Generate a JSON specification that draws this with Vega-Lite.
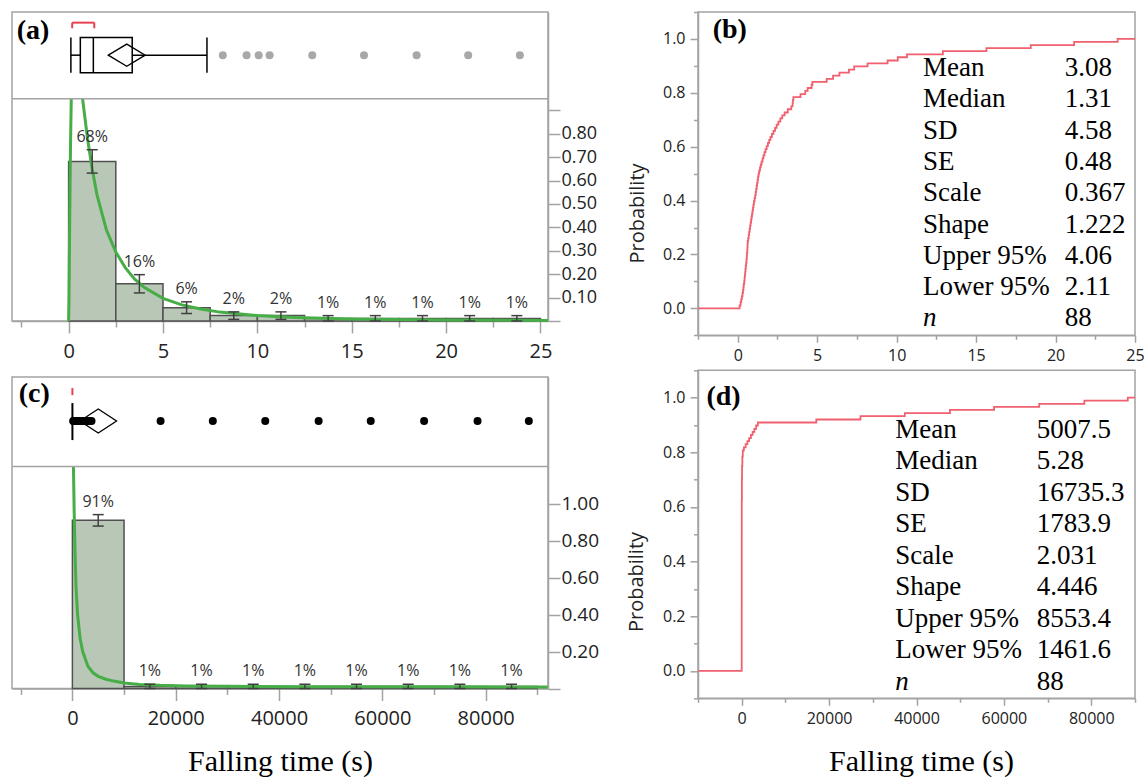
{
  "$schema": "https://vega.github.io/schema/vega-lite/v6.json",
  "background": "white",
  "padding": {"left": 10, "top": 10, "right": 0, "bottom": 0},
  "config": {
    "view": {"stroke": "#a3a3a3", "strokeWidth": 1.5},
    "axis": {"grid": false, "domainColor": "#a3a3a3", "domainWidth": 1.5, "tickColor": "#a3a3a3", "tickWidth": 1.5, "labelFont": "Open Sans", "labelColor": "#222222", "labelFlush": false, "labelOverlap": false, "titleFont": "Open Sans", "titleColor": "#222222", "titleFontWeight": "normal"}
  },
  "datasets": {
    "histA": [
      {"lo": 0, "hi": 2.5, "mid": 1.25, "pct": 0.682, "elo": 0.632, "ehi": 0.732},
      {"lo": 2.5, "hi": 5, "mid": 3.75, "pct": 0.159, "elo": 0.12, "ehi": 0.198},
      {"lo": 5, "hi": 7.5, "mid": 6.25, "pct": 0.057, "elo": 0.032, "ehi": 0.082},
      {"lo": 7.5, "hi": 10, "mid": 8.75, "pct": 0.023, "elo": 0.007, "ehi": 0.039},
      {"lo": 10, "hi": 12.5, "mid": 11.25, "pct": 0.023, "elo": 0.007, "ehi": 0.039},
      {"lo": 12.5, "hi": 15, "mid": 13.75, "pct": 0.011, "elo": 0, "ehi": 0.023},
      {"lo": 15, "hi": 17.5, "mid": 16.25, "pct": 0.011, "elo": 0, "ehi": 0.023},
      {"lo": 17.5, "hi": 20, "mid": 18.75, "pct": 0.011, "elo": 0, "ehi": 0.023},
      {"lo": 20, "hi": 22.5, "mid": 21.25, "pct": 0.011, "elo": 0, "ehi": 0.023},
      {"lo": 22.5, "hi": 25, "mid": 23.75, "pct": 0.011, "elo": 0, "ehi": 0.023}
    ],
    "histC": [
      {"lo": 0, "hi": 10000, "mid": 5000, "pct": 0.909, "elo": 0.878, "ehi": 0.94},
      {"lo": 10000, "hi": 20000, "mid": 15000, "pct": 0.011, "elo": 0, "ehi": 0.023},
      {"lo": 20000, "hi": 30000, "mid": 25000, "pct": 0.011, "elo": 0, "ehi": 0.023},
      {"lo": 30000, "hi": 40000, "mid": 35000, "pct": 0.011, "elo": 0, "ehi": 0.023},
      {"lo": 40000, "hi": 50000, "mid": 45000, "pct": 0.011, "elo": 0, "ehi": 0.023},
      {"lo": 50000, "hi": 60000, "mid": 55000, "pct": 0.011, "elo": 0, "ehi": 0.023},
      {"lo": 60000, "hi": 70000, "mid": 65000, "pct": 0.011, "elo": 0, "ehi": 0.023},
      {"lo": 70000, "hi": 80000, "mid": 75000, "pct": 0.011, "elo": 0, "ehi": 0.023},
      {"lo": 80000, "hi": 90000, "mid": 85000, "pct": 0.011, "elo": 0, "ehi": 0.023}
    ],
    "curveA": [
      {"seg": 1, "x": 0, "y": 0}, {"seg": 1, "x": 0.02, "y": 0.09}, {"seg": 1, "x": 0.05, "y": 0.37}, {"seg": 1, "x": 0.1, "y": 0.75}, {"seg": 1, "x": 0.14, "y": 0.95},
      {"seg": 2, "x": 0.74, "y": 0.95}, {"seg": 2, "x": 1.0, "y": 0.78}, {"seg": 2, "x": 1.25, "y": 0.65}, {"seg": 2, "x": 1.5, "y": 0.54}, {"seg": 2, "x": 2, "y": 0.39},
      {"seg": 2, "x": 2.5, "y": 0.295}, {"seg": 2, "x": 3, "y": 0.228}, {"seg": 2, "x": 3.5, "y": 0.179}, {"seg": 2, "x": 4, "y": 0.144}, {"seg": 2, "x": 5, "y": 0.097},
      {"seg": 2, "x": 6, "y": 0.069}, {"seg": 2, "x": 7, "y": 0.051}, {"seg": 2, "x": 8, "y": 0.038}, {"seg": 2, "x": 10, "y": 0.023}, {"seg": 2, "x": 12, "y": 0.015},
      {"seg": 2, "x": 15, "y": 0.009}, {"seg": 2, "x": 20, "y": 0.004}, {"seg": 2, "x": 25.4, "y": 0.002}
    ],
    "curveC": [
      {"x": 200, "y": 1.2}, {"x": 350, "y": 0.95}, {"x": 500, "y": 0.75}, {"x": 700, "y": 0.55}, {"x": 1000, "y": 0.4},
      {"x": 1500, "y": 0.27}, {"x": 2000, "y": 0.2}, {"x": 3000, "y": 0.12}, {"x": 4000, "y": 0.085}, {"x": 5000, "y": 0.066},
      {"x": 6500, "y": 0.05}, {"x": 8000, "y": 0.04}, {"x": 10000, "y": 0.03}, {"x": 13000, "y": 0.022}, {"x": 17000, "y": 0.017},
      {"x": 22000, "y": 0.014}, {"x": 30000, "y": 0.012}, {"x": 45000, "y": 0.01}, {"x": 60000, "y": 0.009}, {"x": 75000, "y": 0.009}, {"x": 92000, "y": 0.008}
    ],
    "boxA": [{"min": 0.12, "q1": 0.62, "med": 1.31, "q3": 3.37, "max": 7.33, "mean": 3.08, "lo95": 2.11, "hi95": 4.06, "shlo": 0.19, "shhi": 1.36}],
    "outA": [{"v": 8.17}, {"v": 9.43}, {"v": 10.07}, {"v": 10.65}, {"v": 12.91}, {"v": 15.65}, {"v": 18.44}, {"v": 21.17}, {"v": 23.91}],
    "boxC": [{"med": 5.28, "mean": 5007.5, "lo95": 1461.6, "hi95": 8553.4, "shlo": 2, "shhi": 10}],
    "outC": [{"v": 150}, {"v": 250}, {"v": 500}, {"v": 900}, {"v": 1300}, {"v": 1700}, {"v": 2100}, {"v": 2500}, {"v": 2900}, {"v": 3300}, {"v": 3700},
      {"v": 17070}, {"v": 27180}, {"v": 37330}, {"v": 47660}, {"v": 57750}, {"v": 68080}, {"v": 78420}, {"v": 88350}],
    "ecdfB": [
      {"x": -2.5, "F": 0},
      {"x": 0.12, "F": 0.011}, {"x": 0.18, "F": 0.023}, {"x": 0.22, "F": 0.034}, {"x": 0.26, "F": 0.045}, {"x": 0.3, "F": 0.057},
      {"x": 0.33, "F": 0.068}, {"x": 0.36, "F": 0.08}, {"x": 0.38, "F": 0.091}, {"x": 0.41, "F": 0.102}, {"x": 0.43, "F": 0.114},
      {"x": 0.45, "F": 0.125}, {"x": 0.47, "F": 0.136}, {"x": 0.49, "F": 0.148}, {"x": 0.51, "F": 0.159}, {"x": 0.53, "F": 0.17},
      {"x": 0.55, "F": 0.182}, {"x": 0.57, "F": 0.193}, {"x": 0.58, "F": 0.205}, {"x": 0.6, "F": 0.216}, {"x": 0.61, "F": 0.227},
      {"x": 0.62, "F": 0.239}, {"x": 0.63, "F": 0.25}, {"x": 0.66, "F": 0.261}, {"x": 0.69, "F": 0.273}, {"x": 0.72, "F": 0.284},
      {"x": 0.75, "F": 0.295}, {"x": 0.78, "F": 0.307}, {"x": 0.81, "F": 0.318}, {"x": 0.84, "F": 0.33}, {"x": 0.87, "F": 0.341},
      {"x": 0.9, "F": 0.352}, {"x": 0.93, "F": 0.364}, {"x": 0.96, "F": 0.375}, {"x": 0.99, "F": 0.386}, {"x": 1.02, "F": 0.398},
      {"x": 1.06, "F": 0.409}, {"x": 1.1, "F": 0.42}, {"x": 1.13, "F": 0.432}, {"x": 1.16, "F": 0.443}, {"x": 1.19, "F": 0.455},
      {"x": 1.22, "F": 0.466}, {"x": 1.25, "F": 0.477}, {"x": 1.28, "F": 0.489}, {"x": 1.31, "F": 0.5}, {"x": 1.35, "F": 0.511},
      {"x": 1.4, "F": 0.523}, {"x": 1.45, "F": 0.534}, {"x": 1.5, "F": 0.545}, {"x": 1.56, "F": 0.557}, {"x": 1.62, "F": 0.568},
      {"x": 1.68, "F": 0.58}, {"x": 1.75, "F": 0.591}, {"x": 1.82, "F": 0.602}, {"x": 1.9, "F": 0.614}, {"x": 1.98, "F": 0.625},
      {"x": 2.06, "F": 0.636}, {"x": 2.15, "F": 0.648}, {"x": 2.25, "F": 0.659}, {"x": 2.35, "F": 0.67}, {"x": 2.45, "F": 0.682},
      {"x": 2.56, "F": 0.693}, {"x": 2.68, "F": 0.705}, {"x": 2.8, "F": 0.716}, {"x": 2.95, "F": 0.727}, {"x": 3.15, "F": 0.739},
      {"x": 3.37, "F": 0.75}, {"x": 3.45, "F": 0.761}, {"x": 3.47, "F": 0.773}, {"x": 3.5, "F": 0.784}, {"x": 3.95, "F": 0.795},
      {"x": 4.25, "F": 0.807}, {"x": 4.4, "F": 0.818}, {"x": 4.65, "F": 0.83}, {"x": 4.7, "F": 0.841}, {"x": 5.6, "F": 0.852},
      {"x": 6.0, "F": 0.864}, {"x": 6.4, "F": 0.875}, {"x": 7.0, "F": 0.886}, {"x": 7.33, "F": 0.898}, {"x": 8.17, "F": 0.909},
      {"x": 9.43, "F": 0.92}, {"x": 10.07, "F": 0.932}, {"x": 10.65, "F": 0.943}, {"x": 12.91, "F": 0.955}, {"x": 15.65, "F": 0.966},
      {"x": 18.44, "F": 0.977}, {"x": 21.17, "F": 0.989}, {"x": 23.91, "F": 1}, {"x": 25, "F": 1}
    ],
    "ecdfD": [
      {"x": -10000, "F": 0}, {"x": 0.5, "F": 0.011}, {"x": 1.5, "F": 0.125}, {"x": 2.6, "F": 0.25}, {"x": 4, "F": 0.375}, {"x": 5.28, "F": 0.5},
      {"x": 12, "F": 0.625}, {"x": 40, "F": 0.705}, {"x": 80, "F": 0.75}, {"x": 150, "F": 0.784}, {"x": 250, "F": 0.807},
      {"x": 500, "F": 0.818}, {"x": 900, "F": 0.83}, {"x": 1300, "F": 0.841}, {"x": 1700, "F": 0.852}, {"x": 2100, "F": 0.864},
      {"x": 2500, "F": 0.875}, {"x": 2900, "F": 0.886}, {"x": 3300, "F": 0.898}, {"x": 3700, "F": 0.909}, {"x": 17070, "F": 0.92},
      {"x": 27180, "F": 0.932}, {"x": 37330, "F": 0.943}, {"x": 47660, "F": 0.955}, {"x": 57750, "F": 0.966}, {"x": 68080, "F": 0.977},
      {"x": 78420, "F": 0.989}, {"x": 88350, "F": 1}, {"x": 90000, "F": 1}
    ],
    "statsB": [
      {"i": 1, "stat": "Mean", "val": "3.08"}, {"i": 2, "stat": "Median", "val": "1.31"}, {"i": 3, "stat": "SD", "val": "4.58"}, {"i": 4, "stat": "SE", "val": "0.48"},
      {"i": 5, "stat": "Scale", "val": "0.367"}, {"i": 6, "stat": "Shape", "val": "1.222"}, {"i": 7, "stat": "Upper 95%", "val": "4.06"}, {"i": 8, "stat": "Lower 95%", "val": "2.11"}, {"i": 9, "stat": "n", "val": "88"}
    ],
    "statsD": [
      {"i": 1, "stat": "Mean", "val": "5007.5"}, {"i": 2, "stat": "Median", "val": "5.28"}, {"i": 3, "stat": "SD", "val": "16735.3"}, {"i": 4, "stat": "SE", "val": "1783.9"},
      {"i": 5, "stat": "Scale", "val": "2.031"}, {"i": 6, "stat": "Shape", "val": "4.446"}, {"i": 7, "stat": "Upper 95%", "val": "8553.4"}, {"i": 8, "stat": "Lower 95%", "val": "1461.6"}, {"i": 9, "stat": "n", "val": "88"}
    ]
  },
  "spacing": 25,
  "hconcat": [
    {
      "spacing": 56,
      "bounds": "flush",
      "vconcat": [
        {
          "width": 536,
          "height": 309,
          "resolve": {"axis": {"x": "independent", "y": "independent"}},
          "layer": [
            {
              "data": {"name": "histA"},
              "mark": {"type": "rect", "fill": "#b9c7b7", "stroke": "#505050", "strokeWidth": 1.5, "opacity": 1},
              "encoding": {
                "x": {"field": "lo", "type": "quantitative", "scale": {"domain": [-3.0, 25.4], "nice": false, "zero": false},
                  "axis": {"orient": "bottom", "values": [0, 5, 10, 15, 20, 25], "format": "d", "tickSize": 12, "labelPadding": 8, "labelFontSize": 20, "title": null}},
                "x2": {"field": "hi"},
                "y": {"field": "pct", "type": "quantitative", "scale": {"domain": [0, 1.3205], "nice": false, "zero": false},
                  "axis": {"orient": "right", "values": [0, 0.1, 0.2, 0.3, 0.4, 0.5, 0.6, 0.7, 0.8, 0.9], "labelExpr": "datum.value > 0.05 && datum.value < 0.85 ? format(datum.value, '.2f') : ''", "tickSize": 12, "labelPadding": 1, "labelFontSize": 18, "title": null}},
                "y2": {"datum": 0}
              }
            },
            {
              "data": {"name": "curveA"},
              "mark": {"type": "line", "color": "#47ad47", "strokeWidth": 3},
              "encoding": {
                "x": {"field": "x", "type": "quantitative", "axis": {"orient": "bottom", "values": [-2.5, 2.5, 7.5, 12.5, 17.5, 22.5], "labels": false, "domain": false, "tickSize": 6, "title": null}},
                "y": {"field": "y", "type": "quantitative", "axis": null},
                "detail": {"field": "seg"}
              }
            },
            {
              "data": {"name": "histA"},
              "mark": {"type": "rule", "color": "#404040", "strokeWidth": 1.5},
              "encoding": {"x": {"field": "mid", "type": "quantitative", "axis": null}, "y": {"field": "elo", "type": "quantitative", "axis": null}, "y2": {"field": "ehi"}}
            },
            {
              "data": {"name": "histA"},
              "mark": {"type": "tick", "orient": "horizontal", "size": 11, "thickness": 1.5, "color": "#404040", "opacity": 1},
              "encoding": {"x": {"field": "mid", "type": "quantitative", "axis": null}, "y": {"field": "ehi", "type": "quantitative", "axis": null}}
            },
            {
              "data": {"name": "histA"},
              "mark": {"type": "tick", "orient": "horizontal", "size": 11, "thickness": 1.5, "color": "#404040", "opacity": 1},
              "encoding": {"x": {"field": "mid", "type": "quantitative", "axis": null}, "y": {"field": "elo", "type": "quantitative", "axis": null}}
            },
            {
              "data": {"name": "histA"},
              "mark": {"type": "text", "font": "Open Sans", "fontSize": 16, "color": "#333333", "dy": -13, "baseline": "middle"},
              "encoding": {"x": {"field": "mid", "type": "quantitative", "axis": null}, "y": {"field": "ehi", "type": "quantitative", "axis": null}, "text": {"field": "pct", "type": "quantitative", "format": ".0%"}}
            },
            {
              "data": {"values": [{}]},
              "mark": {"type": "rule", "color": "#a3a3a3", "strokeWidth": 1.5},
              "encoding": {"y": {"datum": 0.95, "axis": null}}
            },
            {
              "data": {"name": "boxA"},
              "mark": {"type": "rect", "fill": "white", "fillOpacity": 0, "stroke": "black", "strokeWidth": 1.5},
              "encoding": {"x": {"field": "q1", "type": "quantitative", "axis": null}, "x2": {"field": "q3"}, "y": {"datum": 1.061, "axis": null}, "y2": {"datum": 1.211}}
            },
            {
              "data": {"name": "boxA"},
              "mark": {"type": "rule", "color": "black", "strokeWidth": 1.5},
              "encoding": {"x": {"field": "med", "type": "quantitative", "axis": null}, "y": {"datum": 1.061, "axis": null}, "y2": {"datum": 1.211}}
            },
            {
              "data": {"name": "boxA"},
              "mark": {"type": "rule", "color": "black", "strokeWidth": 1.5},
              "encoding": {"x": {"field": "min", "type": "quantitative", "axis": null}, "y": {"datum": 1.061, "axis": null}, "y2": {"datum": 1.211}}
            },
            {
              "data": {"name": "boxA"},
              "mark": {"type": "rule", "color": "black", "strokeWidth": 1.5},
              "encoding": {"x": {"field": "max", "type": "quantitative", "axis": null}, "y": {"datum": 1.061, "axis": null}, "y2": {"datum": 1.211}}
            },
            {
              "data": {"name": "boxA"},
              "mark": {"type": "rule", "color": "black", "strokeWidth": 1.5},
              "encoding": {"x": {"field": "min", "type": "quantitative", "axis": null}, "x2": {"field": "q1"}, "y": {"datum": 1.136, "axis": null}}
            },
            {
              "data": {"name": "boxA"},
              "mark": {"type": "rule", "color": "black", "strokeWidth": 1.5},
              "encoding": {"x": {"field": "q3", "type": "quantitative", "axis": null}, "x2": {"field": "max"}, "y": {"datum": 1.136, "axis": null}}
            },
            {
              "data": {"name": "boxA"},
              "mark": {"type": "point", "shape": "M-1,0L0,-0.6L1,0L0,0.6Z", "size": 1361, "filled": false, "stroke": "black", "strokeWidth": 1.3, "opacity": 1},
              "encoding": {"x": {"field": "mean", "type": "quantitative", "axis": null}, "y": {"datum": 1.136, "axis": null}}
            },
            {
              "data": {"name": "boxA"},
              "mark": {"type": "rule", "color": "#e8404e", "strokeWidth": 2},
              "encoding": {"x": {"field": "shlo", "type": "quantitative", "axis": null}, "x2": {"field": "shhi"}, "y": {"datum": 1.275, "axis": null}}
            },
            {
              "data": {"name": "boxA"},
              "mark": {"type": "rule", "color": "#e8404e", "strokeWidth": 2},
              "encoding": {"x": {"field": "shlo", "type": "quantitative", "axis": null}, "y": {"datum": 1.251, "axis": null}, "y2": {"datum": 1.275}}
            },
            {
              "data": {"name": "boxA"},
              "mark": {"type": "rule", "color": "#e8404e", "strokeWidth": 2},
              "encoding": {"x": {"field": "shhi", "type": "quantitative", "axis": null}, "y": {"datum": 1.251, "axis": null}, "y2": {"datum": 1.275}}
            },
            {
              "data": {"name": "outA"},
              "mark": {"type": "point", "filled": true, "color": "#a8a8a8", "size": 64, "opacity": 1},
              "encoding": {"x": {"field": "v", "type": "quantitative", "axis": null}, "y": {"datum": 1.136, "axis": null}}
            },
            {
              "data": {"values": [{"label": "(a)"}]},
              "mark": {"type": "text", "font": "Liberation Serif", "fontWeight": "bold", "fontSize": 28, "align": "left", "baseline": "middle", "color": "black"},
              "encoding": {"x": {"datum": -2.75, "axis": null}, "y": {"datum": 1.239, "axis": null}, "text": {"field": "label"}}
            }
          ]
        },
        {
          "width": 536,
          "height": 311.5,
          "resolve": {"axis": {"x": "independent", "y": "independent"}},
          "layer": [
            {
              "data": {"name": "histC"},
              "mark": {"type": "rect", "fill": "#b9c7b7", "stroke": "#505050", "strokeWidth": 1.5, "opacity": 1},
              "encoding": {
                "x": {"field": "lo", "type": "quantitative", "scale": {"domain": [-11690, 92060], "nice": false, "zero": false},
                  "axis": {"orient": "bottom", "values": [0, 20000, 40000, 60000, 80000], "format": "d", "tickSize": 12, "labelPadding": 8, "labelFontSize": 20,
                    "title": "Falling time (s)", "titleFont": "Liberation Serif", "titleFontSize": 30, "titleColor": "black", "titleX": 268, "titleY": 81.5, "titleBaseline": "alphabetic"}},
                "x2": {"field": "hi"},
                "y": {"field": "pct", "type": "quantitative", "scale": {"domain": [0, 1.684], "nice": false, "zero": false},
                  "axis": {"orient": "right", "values": [0, 0.2, 0.4, 0.6, 0.8, 1.0], "labelExpr": "datum.value > 0.1 ? format(datum.value, '.2f') : ''", "tickSize": 12, "labelPadding": 1, "labelFontSize": 19, "title": null}},
                "y2": {"datum": 0}
              }
            },
            {
              "data": {"name": "curveC"},
              "mark": {"type": "line", "color": "#47ad47", "strokeWidth": 3},
              "encoding": {
                "x": {"field": "x", "type": "quantitative", "axis": {"orient": "bottom", "values": [-10000, 10000, 30000, 50000, 70000, 90000], "labels": false, "domain": false, "tickSize": 6, "title": null}},
                "y": {"field": "y", "type": "quantitative", "axis": null}
              }
            },
            {
              "data": {"name": "histC"},
              "mark": {"type": "rule", "color": "#404040", "strokeWidth": 1.5},
              "encoding": {"x": {"field": "mid", "type": "quantitative", "axis": null}, "y": {"field": "elo", "type": "quantitative", "axis": null}, "y2": {"field": "ehi"}}
            },
            {
              "data": {"name": "histC"},
              "mark": {"type": "tick", "orient": "horizontal", "size": 11, "thickness": 1.5, "color": "#404040", "opacity": 1},
              "encoding": {"x": {"field": "mid", "type": "quantitative", "axis": null}, "y": {"field": "ehi", "type": "quantitative", "axis": null}}
            },
            {
              "data": {"name": "histC"},
              "mark": {"type": "tick", "orient": "horizontal", "size": 11, "thickness": 1.5, "color": "#404040", "opacity": 1},
              "encoding": {"x": {"field": "mid", "type": "quantitative", "axis": null}, "y": {"field": "elo", "type": "quantitative", "axis": null}}
            },
            {
              "data": {"name": "histC"},
              "mark": {"type": "text", "font": "Open Sans", "fontSize": 16, "color": "#333333", "dy": -13, "baseline": "middle"},
              "encoding": {"x": {"field": "mid", "type": "quantitative", "axis": null}, "y": {"field": "ehi", "type": "quantitative", "axis": null}, "text": {"field": "pct", "type": "quantitative", "format": ".0%"}}
            },
            {
              "data": {"values": [{}]},
              "mark": {"type": "rule", "color": "#a3a3a3", "strokeWidth": 1.5},
              "encoding": {"y": {"datum": 1.2, "axis": null}}
            },
            {
              "data": {"name": "outC"},
              "mark": {"type": "point", "filled": true, "color": "black", "size": 64, "opacity": 1},
              "encoding": {"x": {"field": "v", "type": "quantitative", "axis": null}, "y": {"datum": 1.446, "axis": null}}
            },
            {
              "data": {"name": "boxC"},
              "mark": {"type": "rule", "color": "black", "strokeWidth": 2},
              "encoding": {"x": {"field": "med", "type": "quantitative", "axis": null}, "y": {"datum": 1.343, "axis": null}, "y2": {"datum": 1.543}}
            },
            {
              "data": {"name": "boxC"},
              "mark": {"type": "point", "shape": "M-1,0L0,-0.655L1,0L0,0.655Z", "size": 1342, "filled": false, "stroke": "black", "strokeWidth": 1.3, "opacity": 1},
              "encoding": {"x": {"field": "mean", "type": "quantitative", "axis": null}, "y": {"datum": 1.446, "axis": null}}
            },
            {
              "data": {"name": "boxC"},
              "mark": {"type": "rule", "color": "#e8404e", "strokeWidth": 2},
              "encoding": {"x": {"field": "shlo", "type": "quantitative", "axis": null}, "x2": {"field": "shhi"}, "y": {"datum": 1.624, "axis": null}}
            },
            {
              "data": {"name": "boxC"},
              "mark": {"type": "rule", "color": "#e8404e", "strokeWidth": 2},
              "encoding": {"x": {"field": "shlo", "type": "quantitative", "axis": null}, "y": {"datum": 1.586, "axis": null}, "y2": {"datum": 1.624}}
            },
            {
              "data": {"values": [{"label": "(c)"}]},
              "mark": {"type": "text", "font": "Liberation Serif", "fontWeight": "bold", "fontSize": 28, "align": "left", "baseline": "middle", "color": "black"},
              "encoding": {"x": {"datum": -10393, "axis": null}, "y": {"datum": 1.592, "axis": null}, "text": {"field": "label"}}
            }
          ]
        }
      ]
    },
    {
      "spacing": 34.3,
      "bounds": "flush",
      "vconcat": [
        {
          "width": 437,
          "height": 323.3,
          "resolve": {"scale": {"y": "independent"}, "axis": {"x": "independent", "y": "independent"}},
          "layer": [
            {
              "resolve": {"axis": {"x": "independent", "y": "independent"}},
              "layer": [
                {
                  "data": {"name": "ecdfB"},
                  "mark": {"type": "line", "interpolate": "step-after", "color": "#f0606e", "strokeWidth": 1.8},
                  "encoding": {
                    "x": {"field": "x", "type": "quantitative", "scale": {"domain": [-2.5, 25], "nice": false, "zero": false},
                      "axis": {"orient": "bottom", "values": [0, 5, 10, 15, 20, 25], "format": "d", "tickSize": 7, "labelPadding": 5, "labelFontSize": 16, "title": null}},
                    "y": {"field": "F", "type": "quantitative", "scale": {"domain": [-0.1, 1.1], "nice": false, "zero": false},
                      "axis": {"orient": "left", "values": [0, 0.2, 0.4, 0.6, 0.8, 1.0], "format": ".1f", "tickSize": 8, "labelPadding": 5, "labelFontSize": 16,
                        "title": "Probability", "titleFontSize": 20, "titleX": -61, "titleY": 201, "titleAngle": -90, "titleAlign": "center", "titleBaseline": "middle"}}
                  }
                },
                {
                  "data": {"values": [{"label": "(b)"}]},
                  "mark": {"type": "text", "font": "Liberation Serif", "fontWeight": "bold", "fontSize": 28, "align": "left", "baseline": "middle", "color": "black"},
                  "encoding": {
                    "x": {"datum": -1.575, "axis": {"orient": "bottom", "values": [-2.5, 2.5, 7.5, 12.5, 17.5, 22.5], "labels": false, "domain": false, "tickSize": 4, "title": null}},
                    "y": {"datum": 1.033, "axis": {"orient": "left", "values": [-0.1, 0.1, 0.3, 0.5, 0.7, 0.9, 1.1], "labels": false, "domain": false, "tickSize": 4.5, "title": null}},
                    "text": {"field": "label"}
                  }
                }
              ]
            },
            {
              "data": {"name": "statsB"},
              "encoding": {"y": {"field": "i", "type": "quantitative", "scale": {"domain": [-0.789, 9.537], "reverse": true, "nice": false, "zero": false}, "axis": null}},
              "layer": [
                {
                  "transform": [{"filter": "datum.stat !== 'n'"}],
                  "mark": {"type": "text", "font": "Liberation Serif", "fontSize": 27, "align": "left", "baseline": "middle", "color": "black"},
                  "encoding": {"x": {"datum": 11.66, "axis": null}, "text": {"field": "stat"}}
                },
                {
                  "transform": [{"filter": "datum.stat === 'n'"}],
                  "mark": {"type": "text", "font": "Liberation Serif", "fontSize": 27, "fontStyle": "italic", "align": "left", "baseline": "middle", "color": "black"},
                  "encoding": {"x": {"datum": 11.66, "axis": null}, "text": {"field": "stat"}}
                },
                {
                  "mark": {"type": "text", "font": "Liberation Serif", "fontSize": 27, "align": "left", "baseline": "middle", "color": "black"},
                  "encoding": {"x": {"datum": 20.58, "axis": null}, "text": {"field": "val"}}
                }
              ]
            }
          ]
        },
        {
          "width": 437,
          "height": 328,
          "resolve": {"scale": {"y": "independent"}, "axis": {"x": "independent", "y": "independent"}},
          "layer": [
            {
              "resolve": {"axis": {"x": "independent", "y": "independent"}},
              "layer": [
                {
                  "data": {"name": "ecdfD"},
                  "mark": {"type": "line", "interpolate": "step-after", "color": "#f0606e", "strokeWidth": 1.8},
                  "encoding": {
                    "x": {"field": "x", "type": "quantitative", "scale": {"domain": [-10000, 90000], "nice": false, "zero": false},
                      "axis": {"orient": "bottom", "values": [0, 20000, 40000, 60000, 80000], "format": "d", "tickSize": 7, "labelPadding": 5, "labelFontSize": 16,
                        "title": "Falling time (s)", "titleFont": "Liberation Serif", "titleFontSize": 30, "titleColor": "black", "titleX": 223, "titleY": 72.4, "titleBaseline": "alphabetic"}},
                    "y": {"field": "F", "type": "quantitative", "scale": {"domain": [-0.1, 1.1], "nice": false, "zero": false},
                      "axis": {"orient": "left", "values": [0, 0.2, 0.4, 0.6, 0.8, 1.0], "format": ".1f", "tickSize": 8, "labelPadding": 5, "labelFontSize": 16,
                        "title": "Probability", "titleFontSize": 20, "titleX": -61.5, "titleY": 211.2, "titleAngle": -90, "titleAlign": "center", "titleBaseline": "middle"}}
                  }
                },
                {
                  "data": {"values": [{"label": "(d)"}]},
                  "mark": {"type": "text", "font": "Liberation Serif", "fontWeight": "bold", "fontSize": 28, "align": "left", "baseline": "middle", "color": "black"},
                  "encoding": {
                    "x": {"datum": -8078, "axis": {"orient": "bottom", "values": [-10000, 10000, 30000, 50000, 70000, 90000], "labels": false, "domain": false, "tickSize": 4, "title": null}},
                    "y": {"datum": 1.003, "axis": {"orient": "left", "values": [-0.1, 0.1, 0.3, 0.5, 0.7, 0.9, 1.1], "labels": false, "domain": false, "tickSize": 4.5, "title": null}},
                    "text": {"field": "label"}
                  }
                }
              ]
            },
            {
              "data": {"name": "statsD"},
              "encoding": {"y": {"field": "i", "type": "quantitative", "scale": {"domain": [-0.886, 9.527], "reverse": true, "nice": false, "zero": false}, "axis": null}},
              "layer": [
                {
                  "transform": [{"filter": "datum.stat !== 'n'"}],
                  "mark": {"type": "text", "font": "Liberation Serif", "fontSize": 27, "align": "left", "baseline": "middle", "color": "black"},
                  "encoding": {"x": {"datum": 35126, "axis": null}, "text": {"field": "stat"}}
                },
                {
                  "transform": [{"filter": "datum.stat === 'n'"}],
                  "mark": {"type": "text", "font": "Liberation Serif", "fontSize": 27, "fontStyle": "italic", "align": "left", "baseline": "middle", "color": "black"},
                  "encoding": {"x": {"datum": 35126, "axis": null}, "text": {"field": "stat"}}
                },
                {
                  "mark": {"type": "text", "font": "Liberation Serif", "fontSize": 27, "align": "left", "baseline": "middle", "color": "black"},
                  "encoding": {"x": {"datum": 67529, "axis": null}, "text": {"field": "val"}}
                }
              ]
            }
          ]
        }
      ]
    }
  ]
}
